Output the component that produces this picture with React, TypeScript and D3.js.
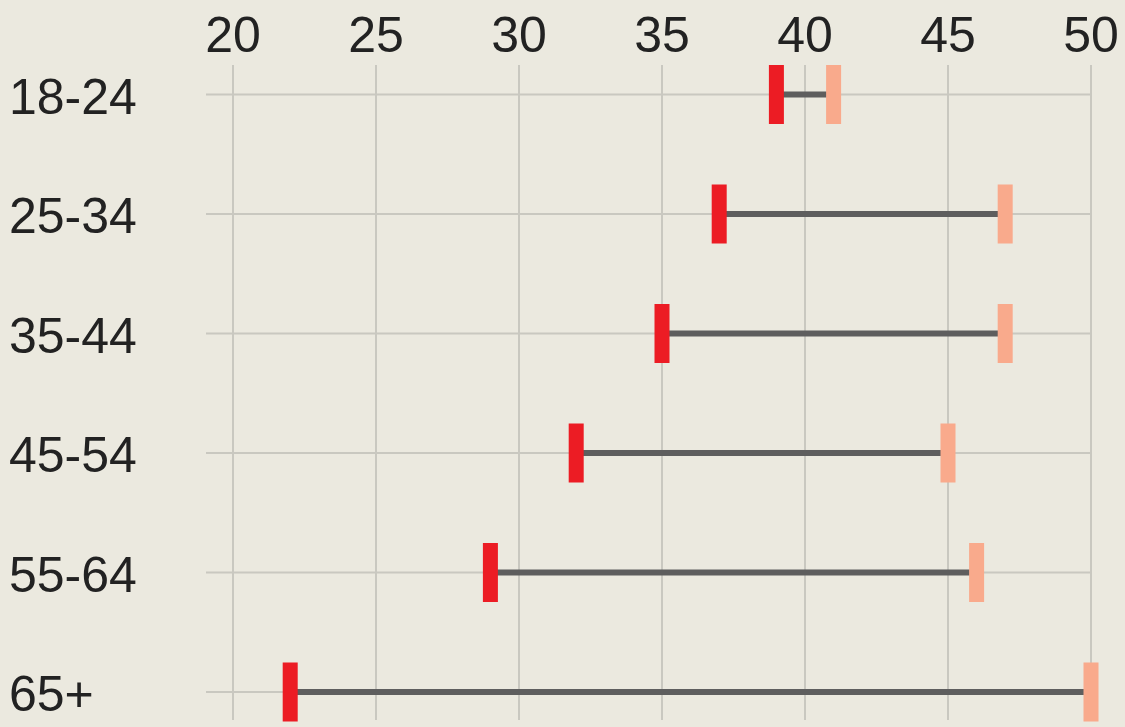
import React from "react";
import * as d3 from "d3";

const categories = ["18-24", "25-34", "35-44", "45-54", "55-64", "65+"];
const startValues = [39, 37, 35, 32, 29, 22];
const endValues = [41, 47, 47, 45, 46, 50];
const tickValues = [20, 25, 30, 35, 40, 45, 50];

const W = 1125;
const H = 727;

export default function App() {
  const x = d3.scaleLinear().domain([20, 50]).range([233, 1091]);
  const y = d3.scalePoint<string>().domain(categories).range([94.5, 692]);
  const font = "'Liberation Sans', Arial, sans-serif";
  const barW = 15;
  const barH = 59;
  return (
    <svg
      width={W}
      height={H}
      style={{ position: "absolute", left: 0, top: 0, display: "block" }}
    >
      <rect x={0} y={0} width={W} height={H} fill="#ebe9df" />
      {tickValues.map((t) => (
        <g key={t}>
          <line x1={x(t)} x2={x(t)} y1={65} y2={720} stroke="#c9c8c0" strokeWidth={2} />
          <text
            x={x(t)}
            y={52}
            textAnchor="middle"
            fontFamily={font}
            fontSize={50}
            fill="#222"
          >
            {t}
          </text>
        </g>
      ))}
      {categories.map((c) => (
        <g key={c}>
          <line x1={206} x2={1091} y1={y(c)} y2={y(c)} stroke="#c9c8c0" strokeWidth={2} />
          <text
            x={9}
            y={(y(c) as number) + 19}
            fontFamily={font}
            fontSize={50}
            fill="#222"
          >
            {c}
          </text>
        </g>
      ))}
      {categories.map((c, i) => {
        const cy = y(c) as number;
        return (
          <g key={"d" + c}>
            <line
              x1={x(startValues[i])}
              x2={x(endValues[i])}
              y1={cy}
              y2={cy}
              stroke="#5e5e5e"
              strokeWidth={6}
            />
            <rect
              x={x(endValues[i]) - barW / 2}
              y={cy - barH / 2}
              width={barW}
              height={barH}
              fill="#f9aa8c"
            />
            <rect
              x={x(startValues[i]) - barW / 2}
              y={cy - barH / 2}
              width={barW}
              height={barH}
              fill="#ec1c24"
            />
          </g>
        );
      })}
    </svg>
  );
}
